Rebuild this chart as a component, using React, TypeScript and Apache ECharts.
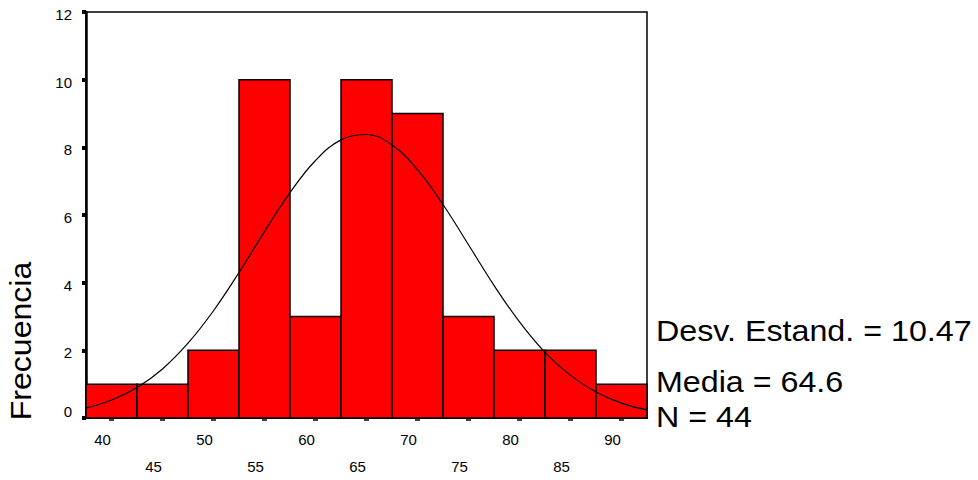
import React, { useEffect, useRef } from "react";
import * as echarts from "echarts";

// Histogram bins (lower edge, upper edge) and counts
const binStarts = [37.5, 42.5, 47.5, 52.5, 57.5, 62.5, 67.5, 72.5, 77.5, 82.5, 87.5];
const binWidth = 5;
const counts = [1, 1, 2, 10, 3, 10, 9, 3, 2, 2, 1];

// Fitted normal curve
const curveX = [37.5, 40, 42.5, 45, 47.5, 50, 52.5, 55, 57.5, 60, 62.5, 65, 67.5, 70, 72.5, 75, 77.5, 80, 82.5, 85, 87.5, 90, 92.5];
const curveY = [0.29, 0.53, 0.9, 1.45, 2.21, 3.17, 4.3, 5.51, 6.66, 7.61, 8.22, 8.38, 8.07, 7.34, 6.31, 5.12, 3.92, 2.84, 1.94, 1.26, 0.77, 0.44, 0.24];

const xTickValues = [40, 45, 50, 55, 60, 65, 70, 75, 80, 85, 90];
const statLines = ["Desv. Estand. = 10.47", "Media = 64.6", "N = 44"];
const yTitle = "Frecuencia";

const FONT = "'Liberation Sans', Arial, sans-serif";

export default function App() {
  const ref = useRef<HTMLDivElement>(null);
  useEffect(() => {
    if (!ref.current) return;
    const chart = echarts.init(ref.current, undefined, { renderer: "svg" });
    const barData = binStarts.map((s, i) => [s, s + binWidth, counts[i]]);
    const lineData = curveX.map((x, i) => [x, curveY[i]]);
    chart.setOption({
      animation: false,
      backgroundColor: "#fff",
      grid: {
        left: 86,
        top: 12,
        right: 331,
        bottom: 58,
        show: true,
        borderColor: "#000",
        borderWidth: 1.5,
        backgroundColor: "transparent",
      },
      xAxis: {
        type: "value",
        min: 37.5,
        max: 92.5,
        splitLine: { show: false },
        axisLine: { show: true, onZero: false, lineStyle: { color: "#000", width: 2 } },
        axisTick: {
          show: true,
          customValues: xTickValues,
          length: 3,
          lineStyle: { color: "#444", width: 5 },
        },
        axisLabel: {
          customValues: xTickValues,
          color: "#000",
          fontFamily: FONT,
          fontSize: 15,
          lineHeight: 27,
          margin: 8,
          padding: [0, 18, 0, 0],
          formatter: (v: number) => ((v - 40) / 5) % 2 === 1 ? "\n" + v : String(v),
        },
      },
      yAxis: {
        type: "value",
        min: 0,
        max: 12,
        interval: 2,
        splitLine: { show: false },
        axisLine: { show: true, lineStyle: { color: "#000", width: 2.5 } },
        axisTick: { show: true, length: 4, lineStyle: { color: "#000", width: 4 } },
        axisLabel: {
          color: "#000",
          fontFamily: FONT,
          fontSize: 15,
          margin: 14,
          formatter: (v: number) => (v === 0 ? "{z|0}" : "{n|" + v + "}"),
          rich: {
            z: { fontFamily: FONT, fontSize: 15, color: "#000", padding: [0, 0, 14, 0] },
            n: { fontFamily: FONT, fontSize: 15, color: "#000", padding: [5, 0, 0, 0] },
          },
        },
      },
      series: [
        {
          type: "custom",
          data: barData,
          z: 2,
          renderItem: (params: any, api: any) => {
            const p0 = api.coord([api.value(0), api.value(2)]);
            const p1 = api.coord([api.value(1), 0]);
            return {
              type: "rect",
              shape: { x: p0[0], y: p0[1], width: p1[0] - p0[0], height: p1[1] - p0[1] },
              style: { fill: "#ff0000", stroke: "#000", lineWidth: 1.5 },
            };
          },
        },
        {
          type: "line",
          data: lineData,
          smooth: 0.4,
          showSymbol: false,
          symbol: "none",
          z: 5,
          lineStyle: { color: "#000", width: 1.2 },
        },
      ],
      graphic: [
        {
          type: "text",
          x: 21,
          y: 341,
          rotation: Math.PI / 2,
          scaleX: 1.07,
          style: {
            text: yTitle,
            fontFamily: FONT,
            fontSize: 30,
            fill: "#000",
            align: "center",
            verticalAlign: "middle",
          },
        },
        ...statLines.map((t, i) => ({
          type: "text",
          x: 656,
          y: [316, 367, 402][i],
          scaleX: 1.075,
          style: {
            text: t,
            fontFamily: FONT,
            fontSize: 30,
            fill: "#000",
            verticalAlign: "top",
          },
        })),
      ],
    });
    return () => chart.dispose();
  }, []);
  return <div ref={ref} style={{ width: 978, height: 480, position: "absolute", left: 0, top: 0 }} />;
}
